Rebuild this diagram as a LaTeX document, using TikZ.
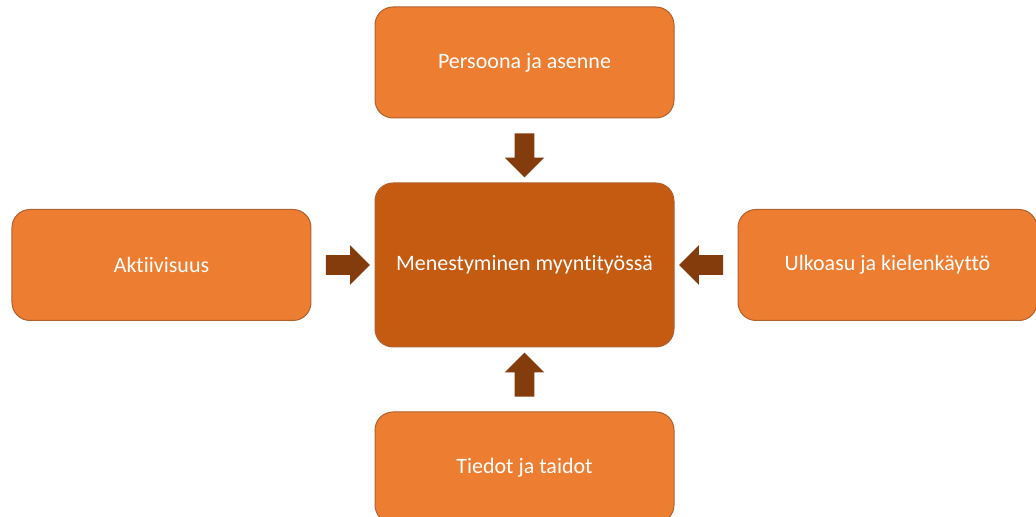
\documentclass[tikz,border=0pt]{standalone}
\usepackage{fontspec}
\setmainfont{Carlito}[Ligatures=NoCommon]
\usetikzlibrary{shapes.arrows, positioning}
\definecolor{boxorange}{HTML}{ED7D31}
\definecolor{mainorange}{HTML}{C55A11}
\definecolor{edgeorange}{HTML}{B0612C}
\definecolor{arrowbrown}{HTML}{843C0C}

\begin{document}
\begin{tikzpicture}[
    node distance=32pt and 31.5pt,
    factor/.style={draw=edgeorange, fill=boxorange, rounded corners=9pt, minimum width=149.5pt, minimum height=55.5pt, align=center, font=\fontsize{11}{13}\selectfont, text=white, line width=0.5pt},
    goal/.style={factor, fill=mainorange, minimum height=82pt},
    push/.style={single arrow, fill=arrowbrown, inner sep=4.75pt, minimum height=22pt, single arrow head extend=5pt}
]
\useasboundingbox (-262.25pt,132.5pt) rectangle (255.75pt,-126pt);
\node[goal] (main) {Menestyminen myyntityössä};
\node[factor, above=of main] (persona) {Persoona ja asenne};
\node[factor, below=of main] (skills) {Tiedot ja taidot};
\node[factor, left=of main] (activity) {Aktiivisuus};
\node[factor, right=of main] (appearance) {Ulkoasu ja kielenkäyttö};

\path (persona.south) -- (main.north) node[midway, push, shape border rotate=270] (pushtop) {};
\path (skills.north) -- (main.south) node[midway, push, shape border rotate=90] (pushbottom) {};
\path (activity.east) -- (main.west) node[midway, push] (pushleft) {};
\path (appearance.west) -- (main.east) node[midway, push, shape border rotate=180] (pushright) {};
\end{tikzpicture}
\end{document}
